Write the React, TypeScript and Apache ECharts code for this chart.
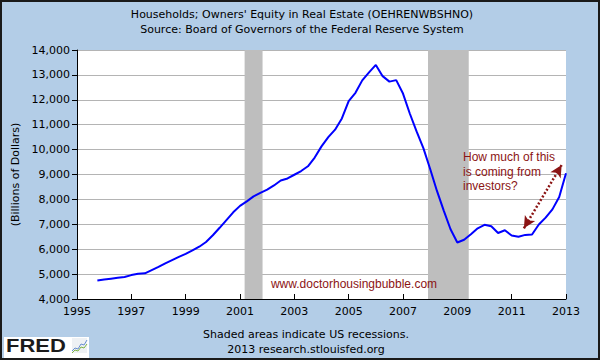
import React, { useEffect, useRef } from "react";
import * as echarts from "echarts";

const TITLE_LINE1 = "Households; Owners' Equity in Real Estate (OEHRENWBSHNO)";
const TITLE_LINE2 = "Source: Board of Governors of the Federal Reserve System";
const Y_NAME = "(Billions of Dollars)";
const FOOT_LINE1 = "Shaded areas indicate US recessions.";
const FOOT_LINE2 = "2013 research.stlouisfed.org";
const WATERMARK = "www.doctorhousingbubble.com";
const NOTE_LINES = ["How much of this", "is coming from", "investors?"];

const BASE_YEAR = 1995;
const X_MAX_YEAR = 2013;
const Y_MIN = 4000;
const Y_MAX = 14000;

const quarterDates = [
  1995.75,
  1996.0, 1996.25, 1996.5, 1996.75,
  1997.0, 1997.25, 1997.5, 1997.75,
  1998.0, 1998.25, 1998.5, 1998.75,
  1999.0, 1999.25, 1999.5, 1999.75,
  2000.0, 2000.25, 2000.5, 2000.75,
  2001.0, 2001.25, 2001.5, 2001.75,
  2002.0, 2002.25, 2002.5, 2002.75,
  2003.0, 2003.25, 2003.5, 2003.75,
  2004.0, 2004.25, 2004.5, 2004.75,
  2005.0, 2005.25, 2005.5, 2005.75,
  2006.0, 2006.25, 2006.5, 2006.75,
  2007.0, 2007.25, 2007.5, 2007.75,
  2008.0, 2008.25, 2008.5, 2008.75,
  2009.0, 2009.25, 2009.5, 2009.75,
  2010.0, 2010.25, 2010.5, 2010.75,
  2011.0, 2011.25, 2011.5, 2011.75,
  2012.0, 2012.25, 2012.5, 2012.75,
  2013.0,
];

const equityValues = [
  4740,
  4780, 4815, 4850, 4885,
  4960, 5010, 5030, 5160,
  5290, 5430, 5560, 5690,
  5810, 5950, 6100, 6290,
  6560, 6860, 7170, 7480,
  7740, 7920, 8120, 8260,
  8390, 8560, 8760, 8840,
  8990, 9140, 9330, 9680,
  10130, 10500, 10800, 11250,
  11950, 12280, 12780, 13100,
  13400, 12950, 12730, 12790,
  12250, 11450, 10730, 10060,
  9220, 8340, 7550, 6800,
  6270, 6380, 6600, 6840,
  6980, 6920, 6650, 6760,
  6550, 6500, 6575, 6590,
  6990, 7270, 7600, 8100,
  9050,
];

const recessions: [number, number][] = [
  [2001.17, 2001.83],
  [2007.92, 2009.42],
];

const arrowFrom: [number, number] = [2011.45, 6840];
const arrowTo: [number, number] = [2012.84, 9380];

const RED = "#8b1414";
const FONT = "DejaVu Sans";

export default function App() {
  const ref = useRef<HTMLDivElement>(null);
  useEffect(() => {
    if (!ref.current) return;
    const chart = echarts.init(ref.current, null, { renderer: "svg" });
    const lineData = quarterDates.map((d, i) => [d - BASE_YEAR, equityValues[i]]);
    const option: any = {
      animation: false,
      backgroundColor: "#b3cde7",
      grid: {
        left: 77,
        right: 34,
        top: 50,
        bottom: 61,
        show: true,
        backgroundColor: "#ffffff",
        borderWidth: 0,
      },
      xAxis: {
        type: "value",
        min: 0,
        max: X_MAX_YEAR - BASE_YEAR,
        interval: 2,
        axisLine: { show: true, onZero: false, lineStyle: { color: "#000", width: 1 } },
        axisTick: { show: true, inside: true, length: 5, lineStyle: { color: "#000" } },
        axisLabel: {
          formatter: (v: number) => String(BASE_YEAR + v),
          color: "#000",
          fontFamily: FONT,
          fontSize: 11,
          margin: 7,
        },
        splitLine: { show: false },
      },
      yAxis: {
        type: "value",
        min: Y_MIN,
        max: Y_MAX,
        interval: 1000,
        name: Y_NAME,
        nameLocation: "middle",
        nameRotate: 90,
        nameGap: 56,
        nameTextStyle: { color: "#000", fontFamily: FONT, fontSize: 11 },
        axisLine: { show: true, lineStyle: { color: "#000", width: 1 } },
        axisTick: { show: true, inside: false, length: 5, lineStyle: { color: "#000" } },
        axisLabel: {
          formatter: (v: number) => v.toLocaleString("en-US"),
          color: "#000",
          fontFamily: FONT,
          fontSize: 11,
          margin: 7,
        },
        splitLine: { show: true, lineStyle: { color: "#b4b4b4", width: 1 } },
      },
      series: [
        {
          type: "line",
          data: lineData,
          showSymbol: false,
          symbol: "none",
          lineStyle: { color: "#0000ff", width: 2 },
          z: 3,
          markArea: {
            silent: true,
            itemStyle: { color: "#bebebe", opacity: 1 },
            data: recessions.map(([a, b]) => [
              { xAxis: a - BASE_YEAR },
              { xAxis: b - BASE_YEAR },
            ]),
          },
          markLine: {
            silent: true,
            symbol: ["arrow", "arrow"],
            symbolSize: [9, 12],
            label: { show: false },
            lineStyle: { color: RED, width: 2.5, type: [2, 2] },
            data: [
              [
                { coord: [arrowFrom[0] - BASE_YEAR, arrowFrom[1]] },
                { coord: [arrowTo[0] - BASE_YEAR, arrowTo[1]] },
              ],
            ],
          },
        },
      ],
      graphic: [
        {
          type: "text",
          x: 302,
          y: 14,
          style: {
            text: TITLE_LINE1,
            fill: "#000",
            font: `11px "${FONT}"`,
            textAlign: "center",
            textVerticalAlign: "middle",
          },
        },
        {
          type: "text",
          x: 302,
          y: 29,
          style: {
            text: TITLE_LINE2,
            fill: "#000",
            font: `11px "${FONT}"`,
            textAlign: "center",
            textVerticalAlign: "middle",
          },
        },
        {
          type: "text",
          x: 306,
          y: 334,
          style: {
            text: FOOT_LINE1,
            fill: "#000",
            font: `11px "${FONT}"`,
            textAlign: "center",
            textVerticalAlign: "middle",
          },
        },
        {
          type: "text",
          x: 306,
          y: 349,
          style: {
            text: FOOT_LINE2,
            fill: "#000",
            font: `11px "${FONT}"`,
            textAlign: "center",
            textVerticalAlign: "middle",
          },
        },
        {
          type: "text",
          x: 354,
          y: 284,
          z: 10,
          style: {
            text: WATERMARK,
            fill: RED,
            font: `12px "Liberation Sans"`,
            textAlign: "center",
            textVerticalAlign: "middle",
          },
        },
        {
          type: "text",
          x: 463,
          y: 150,
          z: 10,
          style: {
            text: NOTE_LINES.join("\n"),
            fill: RED,
            font: `12px "Liberation Sans"`,
            lineHeight: 14.5,
            textAlign: "left",
            textVerticalAlign: "top",
          },
        },
        {
          type: "group",
          z: 10,
          children: [
            { type: "rect", shape: { x: 4, y: 337, width: 85, height: 21 }, style: { fill: "#ffffff" } },
            {
              type: "text",
              x: 6,
              y: 346,
              scaleX: 1.22,
              style: {
                text: "FRED",
                fill: "#1b1b1b",
                font: `bold 18px "Liberation Sans"`,
                textAlign: "left",
                textVerticalAlign: "middle",
              },
            },
            { type: "rect", shape: { x: 72, y: 338, width: 15, height: 15 }, style: { fill: "#eef1f4" } },
            {
              type: "polyline",
              shape: { points: [[72, 351], [75, 348], [78, 349], [81, 344], [84, 345], [87, 340]] },
              style: { stroke: "#6a8fd0", lineWidth: 1, fill: "none" },
            },
            {
              type: "polyline",
              shape: { points: [[72, 353], [75, 350], [78, 351], [81, 347], [84, 348], [87, 344]] },
              style: { stroke: "#7fb446", lineWidth: 1, fill: "none" },
            },
          ],
        },
        {
          type: "rect",
          z: 20,
          shape: { x: 1, y: 1, width: 598, height: 358 },
          style: { fill: "none", stroke: "#1a1a1a", lineWidth: 2 },
          silent: true,
        },
      ],
    };
    chart.setOption(option);
    return () => chart.dispose();
  }, []);
  return (
    <div
      ref={ref}
      style={{ position: "absolute", left: 0, top: 0, width: 600, height: 360 }}
    />
  );
}
